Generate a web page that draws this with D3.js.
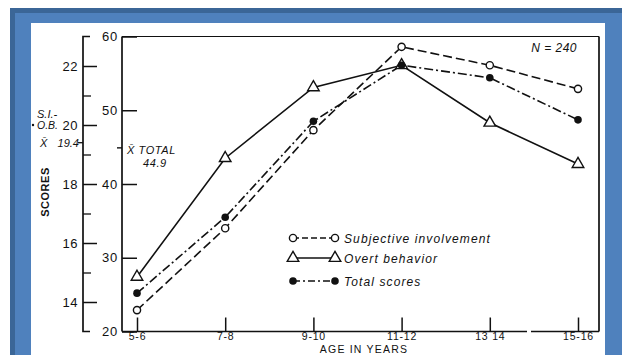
<!DOCTYPE html>
<html>
<head>
<meta charset="utf-8">
<script src="https://cdn.jsdelivr.net/npm/d3@7"></script>
<style>
  html, body { margin: 0; padding: 0; background: #fff; }
  svg { display: block; }
  text { font-family: "Liberation Sans", Arial, sans-serif; fill: #111; }
</style>
</head>
<body>
<svg id="chart" width="622" height="355"></svg>
<script>
// ---- data ----
const categories = ["5-6", "7-8", "9-10", "11-12", "13 14", "15-16"];
const subjective = [22.9, 34.0, 47.3, 58.6, 56.1, 52.9];
const overt      = [27.4, 43.5, 53.1, 56.1, 48.3, 42.7];
const total      = [25.2, 35.5, 48.5, 56.1, 54.4, 48.7];
const innerTicks = [20, 30, 40, 50, 60];
const outerTicks = [14, 16, 18, 20, 22];
const outerMinor = [15, 17, 19, 21];
const outerMean = 19.4;
const totalMean = 44.9;
const seriesNames = ["Subjective  involvement", "Overt  behavior", "Total  scores"];

// ---- layout ----
const svg = d3.select("#chart");
const W = 622, H = 355;
const pLeft = 122, pRight = 599, pTop = 36.5, pBottom = 331.5;

// slide frame
svg.append("rect").attr("x", 10).attr("y", 8).attr("width", W - 10).attr("height", H - 8).attr("fill", "#3b6697");
svg.append("rect").attr("x", 15).attr("y", 13).attr("width", W - 15).attr("height", H - 13).attr("fill", "#4f81bd");
svg.append("rect").attr("x", 31).attr("y", 23).attr("width", 574).attr("height", H - 23).attr("fill", "#ffffff");

const x = d3.scalePoint().domain(categories).range([137, 578]);
const y = d3.scaleLinear().domain([20, 60]).range([pBottom, pTop]);
const yL = d3.scaleLinear().domain([13, 23]).range([pBottom, pTop]);

const ink = "#111";

// plot box
const box = svg.append("g").attr("stroke", ink).attr("fill", "none").attr("stroke-width", 1.7);
box.append("line").attr("x1", pLeft).attr("x2", pLeft).attr("y1", pTop).attr("y2", pBottom);
box.append("line").attr("x1", pLeft).attr("x2", pRight).attr("y1", pTop).attr("y2", pTop).attr("stroke-width", 1.1);
box.append("line").attr("x1", pRight).attr("x2", pRight).attr("y1", pTop).attr("y2", pBottom);
box.append("line").attr("x1", pLeft).attr("x2", 527).attr("y1", pBottom).attr("y2", pBottom);
box.append("line").attr("x1", 531).attr("x2", pRight).attr("y1", pBottom).attr("y2", pBottom);

// inner axis (20-60)
const innerAxis = d3.axisLeft(y).tickValues(innerTicks).tickSize(-15).tickPadding(4).tickSizeOuter(0);
const gi = svg.append("g").attr("transform", `translate(${pLeft},0)`).call(innerAxis);
gi.select(".domain").remove();
gi.selectAll(".tick line").attr("stroke", ink).attr("stroke-width", 1.5);
gi.selectAll(".tick text").attr("font-size", 13).attr("letter-spacing", 0.8).attr("fill", ink);

// mean total marker
svg.append("line").attr("x1", pLeft - 5).attr("x2", pLeft).attr("y1", y(totalMean)).attr("y2", y(totalMean))
  .attr("stroke", ink).attr("stroke-width", 1.4);

// outer axis (13-23)
const outerX = 83;
const go = svg.append("g").attr("transform", `translate(${outerX},0)`);
go.append("path").attr("d", `M7,${yL(23)}H0V${yL(13)}H7`).attr("fill", "none").attr("stroke", ink).attr("stroke-width", 1.7);
const outerAxis = d3.axisLeft(yL).tickValues(outerTicks).tickSize(-14).tickPadding(5).tickSizeOuter(0);
const ga = go.append("g").call(outerAxis);
ga.select(".domain").remove();
ga.selectAll(".tick line").attr("stroke", ink).attr("stroke-width", 1.5);
ga.selectAll(".tick text").attr("font-size", 13).attr("letter-spacing", 0.5).attr("fill", ink);
const minorAxis = d3.axisLeft(yL).tickValues(outerMinor).tickSize(-8).tickFormat("").tickSizeOuter(0);
const gm = go.append("g").call(minorAxis);
gm.select(".domain").remove();
gm.selectAll(".tick line").attr("stroke", ink).attr("stroke-width", 1.3);
go.append("line").attr("x1", -5).attr("x2", 0).attr("y1", yL(outerMean)).attr("y2", yL(outerMean))
  .attr("stroke", ink).attr("stroke-width", 1.3);

// bottom axis
const xAxis = d3.axisBottom(x).tickSize(-14).tickPadding(1.5).tickSizeOuter(0);
const gx = svg.append("g").attr("transform", `translate(0,${pBottom})`).call(xAxis);
gx.select(".domain").remove();
gx.selectAll(".tick line").attr("stroke", ink).attr("stroke-width", 1.5);
gx.selectAll(".tick text").attr("font-size", 10.5).attr("letter-spacing", 0.8).attr("fill", ink);

svg.append("text").attr("x", 364).attr("y", 352.5).attr("text-anchor", "middle")
  .attr("font-size", 10.5).attr("letter-spacing", 1.2).text("AGE IN YEARS");

// SCORES label
svg.append("text").attr("transform", "translate(49,192) rotate(-90)").attr("text-anchor", "middle")
  .attr("font-size", 11).attr("font-weight", "bold").attr("letter-spacing", 0.5).text("SCORES");

// left italic labels
const it = svg.append("g").attr("font-style", "italic").attr("font-size", 11);
it.append("text").attr("x", 37).attr("y", 118).text("S.I.-");
it.append("text").attr("x", 37).attr("y", 128.5).attr("font-size", 10.5).text("O.B.");
it.append("circle").attr("cx", 33).attr("cy", 125).attr("r", 1.2).attr("fill", ink);
it.append("text").attr("x", 40).attr("y", yL(outerMean) + 4).text("X\u0304");
it.append("text").attr("x", 79).attr("y", yL(outerMean) + 4).attr("text-anchor", "end").text("19.4");

it.append("text").attr("x", 127).attr("y", y(totalMean) + 6).attr("letter-spacing", 0.6).text("X\u0304 TOTAL");
it.append("text").attr("x", 143).attr("y", y(totalMean) + 19).attr("letter-spacing", 0.6).text(String(totalMean));

it.append("text").attr("x", 577).attr("y", 52).attr("text-anchor", "end").attr("font-size", 12)
  .attr("letter-spacing", 0.5).text("N = 240");

// series
const styles = [
  { data: subjective, dash: "9,4", marker: "open" },
  { data: overt, dash: null, marker: "tri" },
  { data: total, dash: "9,3,2,3", marker: "dot" }
];

const line = d3.line().x((d, i) => x(categories[i])).y(d => y(d));

function drawMarker(g, type, cx, cy) {
  if (type === "open") {
    g.append("circle").attr("cx", cx).attr("cy", cy).attr("r", 3.6)
      .attr("fill", "#fff").attr("stroke", ink).attr("stroke-width", 1.4);
  } else if (type === "dot") {
    g.append("circle").attr("cx", cx).attr("cy", cy).attr("r", 3.8).attr("fill", ink);
  } else {
    g.append("path").attr("transform", `translate(${cx},${cy})`)
      .attr("d", d3.symbol().type(d3.symbolTriangle).size(58)())
      .attr("fill", "#fff").attr("stroke", ink).attr("stroke-width", 1.4);
  }
}

const gs = svg.append("g");
styles.forEach(s => {
  gs.append("path").datum(s.data).attr("d", line).attr("fill", "none")
    .attr("stroke", ink).attr("stroke-width", 1.6)
    .attr("stroke-dasharray", s.dash);
});
[1, 0, 2].forEach(k => {
  const s = styles[k];
  s.data.forEach((v, i) => drawMarker(gs, s.marker, x(categories[i]), y(v)));
});

// legend
const lg = svg.append("g");
const legendY = [238, 258, 281];
styles.forEach((s, k) => {
  const ly = legendY[k];
  lg.append("line").attr("x1", 293).attr("x2", 335).attr("y1", ly).attr("y2", ly)
    .attr("stroke", ink).attr("stroke-width", 1.5).attr("stroke-dasharray", s.dash ? (k === 0 ? "6,3" : "7,3,2,3") : null);
  drawMarker(lg, s.marker, 293, ly);
  drawMarker(lg, s.marker, 335, ly);
  lg.append("text").attr("x", 344).attr("y", ly + 4.5).attr("font-style", "italic")
    .attr("font-size", 12).attr("letter-spacing", 1.1).text(seriesNames[k]);
});
</script>
</body>
</html>
